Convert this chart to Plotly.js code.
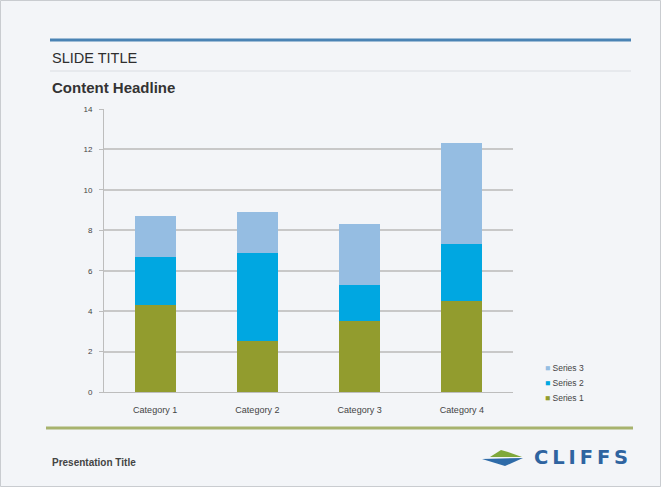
<!DOCTYPE html>
<html><head><meta charset="utf-8">
<script src="https://cdn.plot.ly/plotly-3.0.1.min.js"></script>
<style>html,body{margin:0;padding:0;background:#fff;}#c{width:661px;height:487px;}</style>
</head><body><div id="c"></div>
<script>
const categories = ["Category 1", "Category 2", "Category 3", "Category 4"];
const series1 = [4.3, 2.5, 3.5, 4.5];
const series2 = [2.4, 4.4, 1.8, 2.8];
const series3 = [2, 2, 3, 5];
const seriesNames = ["Series 1", "Series 2", "Series 3"];
const yTicks = [0, 2, 4, 6, 8, 10, 12, 14];

const W = 661, H = 487, L = 104, R = 513, T = 109, B = 392;
const px = x => (x - L) / (R - L);
const py = y => (B - y) / (B - T);

const colors = ["#929C2E", "#00A7E1", "#95BDE2"];
const data = [series1, series2, series3].map((v, i) => ({
  type: "bar", x: categories, y: v, name: seriesNames[i],
  marker: {color: colors[i], line: {width: 0}}, hoverinfo: "none", showlegend: false
}));

const shapes = [
  {type: "rect", xref: "paper", yref: "paper", x0: px(0.5), x1: px(660.5), y0: py(0.5), y1: py(486.5), line: {color: "#C9CCD0", width: 1}, fillcolor: "rgba(0,0,0,0)", layer: "below"},
  {type: "line", xref: "paper", yref: "paper", x0: px(50), x1: px(631), y0: py(40), y1: py(40), line: {color: "#4A83B4", width: 3}},
  {type: "line", xref: "paper", yref: "paper", x0: px(50), x1: px(631), y0: py(71), y1: py(71), line: {color: "#DADDE2", width: 1}},
  {type: "line", xref: "paper", yref: "paper", x0: px(46), x1: px(633), y0: py(428), y1: py(428), line: {color: "#A7B36E", width: 3}},
  {type: "path", xref: "paper", yref: "paper",
   path: `M ${px(490)},${py(457)} L ${px(501)},${py(450)} L ${px(508)},${py(452)} L ${px(522)},${py(457)} Z`, fillcolor: "#7FA83B", line: {width: 0}},
  {type: "path", xref: "paper", yref: "paper",
   path: `M ${px(482)},${py(459)} L ${px(523)},${py(458)} L ${px(505)},${py(466)} Z`, fillcolor: "#2E6BA8", line: {width: 0}}
];

const font = "Liberation Sans, Arial, sans-serif";
const annotations = [
  {xref: "paper", yref: "paper", x: px(50), y: py(58), xanchor: "left", yanchor: "middle", showarrow: false, text: "SLIDE TITLE", font: {family: font, size: 14.5, color: "#2E2E2E"}},
  {xref: "paper", yref: "paper", x: px(50), y: py(88), xanchor: "left", yanchor: "middle", showarrow: false, text: "<b>Content Headline</b>", font: {family: font, size: 15, color: "#333333"}},
  {xref: "paper", yref: "paper", x: px(50), y: py(462), xanchor: "left", yanchor: "middle", showarrow: false, text: "<b>Presentation Title</b>", font: {family: font, size: 10, color: "#444444"}},
  {xref: "paper", yref: "paper", x: px(532), y: py(458), xanchor: "left", yanchor: "middle", showarrow: false, text: "<b>C\u2009L\u2009I\u2009F\u2009F\u2009S</b>", font: {family: "DejaVu Sans, sans-serif", size: 19.5, color: "#2F64A0"}}
];
[2, 1, 0].forEach((i, k) => {
  annotations.push({xref: "paper", yref: "paper", x: px(543), y: py(368 + k * 15), xanchor: "left", yanchor: "middle", showarrow: false,
    text: `<span style="color:${colors[i]}">\u25A0</span> ${seriesNames[i]}`, font: {family: font, size: 8.5, color: "#444"}});
});

const layout = {
  width: W, height: H,
  margin: {l: L, r: W - R, t: T, b: H - B, pad: 0},
  paper_bgcolor: "#F3F5F8", plot_bgcolor: "rgba(0,0,0,0)",
  barmode: "stack", bargap: 0.6,
  showlegend: false,
  xaxis: {showgrid: false, showline: true, linecolor: "#BDBDBD", linewidth: 1, ticks: "",
          tickfont: {family: font, size: 9, color: "#444"}, ticklabelstandoff: 9, fixedrange: true},
  yaxis: {range: [0, 14], tickvals: yTicks, ticktext: yTicks.map(String), showgrid: true, gridcolor: "#C8C8C8", gridwidth: 2,
          showline: true, linecolor: "#BDBDBD", linewidth: 1, ticks: "outside", ticklen: 4, tickcolor: "#BDBDBD",
          zeroline: false, tickfont: {family: font, size: 8, color: "#444"}, ticklabelstandoff: 5, fixedrange: true},
  shapes: shapes, annotations: annotations
};
Plotly.newPlot("c", data, layout, {staticPlot: true, displayModeBar: false});
</script></body></html>
